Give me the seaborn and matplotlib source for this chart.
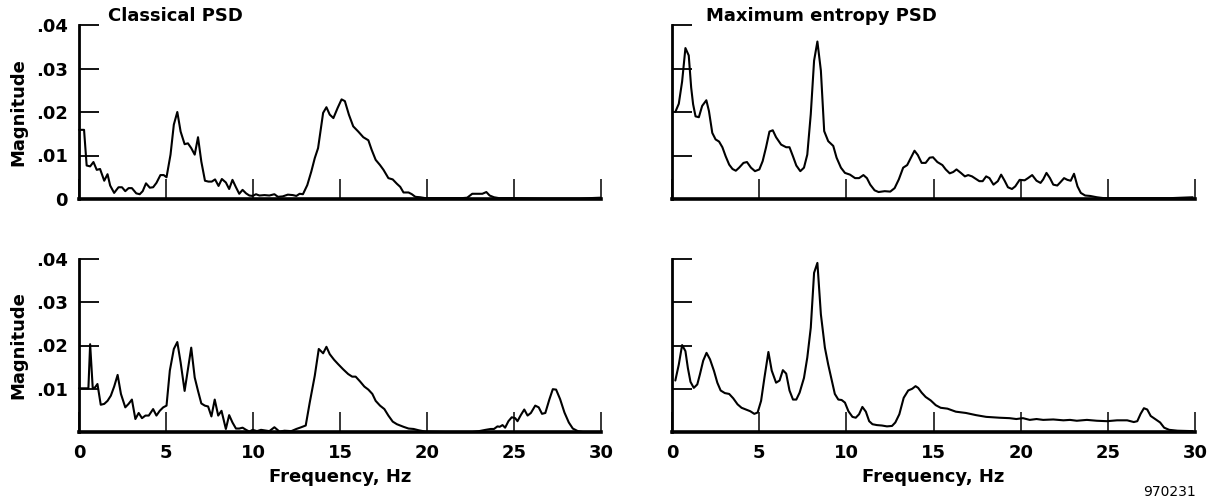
import matplotlib
matplotlib.use("Agg")
import matplotlib.pyplot as plt
import seaborn as sns
import pandas as pd

# ---------------- data ----------------
# Top-left: Classical PSD (record 1)
cls1_f = [0.00, 0.29, 0.44, 0.64, 0.83, 1.02, 1.21, 1.45, 1.64, 1.79, 2.02, 2.27, 2.47, 2.66, 2.85,
          3.04, 3.29, 3.49, 3.66, 3.85, 4.07, 4.26, 4.45, 4.68, 4.87, 5.03, 5.26, 5.45, 5.65, 5.84,
          6.07, 6.26, 6.45, 6.65, 6.84, 7.03, 7.24, 7.44, 7.63, 7.82, 8.02, 8.21, 8.44, 8.63, 8.82,
          9.02, 9.21, 9.40, 9.60, 9.79, 9.98, 10.17, 10.37, 10.66, 10.94, 11.23, 11.43, 11.71, 12.00,
          12.29, 12.49, 12.68, 12.87, 13.12, 13.35, 13.55, 13.74, 14.03, 14.22, 14.41, 14.62, 14.86,
          15.09, 15.28, 15.51, 15.76, 16.05, 16.34, 16.63, 16.82, 17.05, 17.30, 17.50, 17.78, 18.03,
          18.27, 18.46, 18.65, 18.94, 19.13, 19.33, 19.61, 19.90, 20.29, 21.06, 22.02, 22.31, 22.60,
          22.89, 23.18, 23.41, 23.60, 23.85, 24.14, 24.91, 26.84, 28.77, 29.96]
cls1_m = [.0159, .0159, .0077, .0075, .0085, .0067, .0069, .0042, .0057, .0031, .0014, .0027, .0027,
          .0018, .0025, .0025, .0013, .0011, .0018, .0036, .0026, .0027, .0037, .0055, .0055, .0050,
          .0102, .0171, .0200, .0155, .0126, .0128, .0117, .0102, .0142, .0086, .0042, .0040, .0040,
          .0045, .0030, .0046, .0038, .0023, .0044, .0027, .0012, .0021, .0013, .0008, .0007, .0011,
          .0008, .0009, .0008, .0011, .0005, .0006, .0010, .0009, .0007, .0012, .0011, .0032, .0063,
          .0094, .0117, .0198, .0211, .0194, .0186, .0209, .0229, .0225, .0194, .0167, .0155, .0142,
          .0135, .0113, .0090, .0078, .0067, .0048, .0045, .0035, .0028, .0015, .0015, .0011, .0005,
          .0004, .0002, .0002, .0002, .0002, .0003, .0012, .0012, .0012, .0016, .0008, .0004, .0002,
          .0002, .0001, .0001, .0003]

# Top-right: Maximum entropy PSD (record 1)
mem1_f = [0.19, 0.39, 0.58, 0.77, 0.96, 1.10, 1.21, 1.35, 1.54, 1.73, 1.97, 2.12, 2.31, 2.50, 2.70,
          2.89, 3.08, 3.28, 3.47, 3.66, 3.85, 4.10, 4.30, 4.53, 4.76, 5.01, 5.20, 5.39, 5.59, 5.78,
          5.97, 6.26, 6.55, 6.74, 6.94, 7.13, 7.36, 7.57, 7.76, 7.96, 8.15, 8.34, 8.54, 8.73, 8.96,
          9.25, 9.44, 9.69, 9.92, 10.21, 10.50, 10.73, 10.98, 11.18, 11.37, 11.62, 11.85, 12.20,
          12.52, 12.77, 13.01, 13.26, 13.49, 13.68, 13.91, 14.10, 14.32, 14.55, 14.78, 14.97, 15.22,
          15.51, 15.70, 15.93, 16.13, 16.32, 16.57, 16.80, 16.99, 17.21, 17.40, 17.63, 17.82, 18.02,
          18.21, 18.44, 18.69, 18.88, 19.08, 19.27, 19.50, 19.69, 19.94, 20.23, 20.42, 20.66, 20.91,
          21.14, 21.29, 21.48, 21.68, 21.87, 22.10, 22.29, 22.49, 22.68, 22.87, 23.06, 23.26, 23.45,
          23.70, 23.99, 24.37, 24.76, 26.69, 28.61, 29.87]
mem1_m = [.0200, .0219, .0270, .0347, .0330, .0256, .0218, .0190, .0188, .0214, .0227, .0202, .0152,
          .0137, .0132, .0119, .0098, .0079, .0069, .0065, .0072, .0083, .0085, .0072, .0064, .0068,
          .0087, .0118, .0155, .0158, .0142, .0125, .0119, .0119, .0098, .0077, .0064, .0072, .0102,
          .0195, .0318, .0362, .0295, .0156, .0133, .0122, .0095, .0072, .0060, .0056, .0048, .0048,
          .0055, .0048, .0033, .0020, .0016, .0018, .0017, .0025, .0045, .0072, .0078, .0093, .0111,
          .0101, .0083, .0083, .0095, .0096, .0085, .0078, .0068, .0059, .0062, .0068, .0060, .0052,
          .0055, .0052, .0047, .0041, .0041, .0052, .0048, .0033, .0041, .0056, .0042, .0027, .0023,
          .0029, .0044, .0043, .0048, .0055, .0042, .0037, .0045, .0060, .0048, .0033, .0031, .0039,
          .0048, .0044, .0042, .0058, .0029, .0014, .0008, .0007, .0004, .0002, .0002, .0002, .0004]

# Bottom-left: Classical PSD (record 2)
cls2_f = [0.00, 0.44, 0.54, 0.64, 0.79, 0.92, 1.06, 1.25, 1.45, 1.64, 1.83, 2.02, 2.22, 2.41, 2.66,
          2.85, 3.04, 3.24, 3.43, 3.62, 3.82, 4.01, 4.26, 4.45, 4.64, 4.84, 5.03, 5.22, 5.45, 5.65,
          5.84, 6.07, 6.26, 6.45, 6.65, 6.84, 7.03, 7.23, 7.42, 7.61, 7.80, 8.00, 8.19, 8.44, 8.63,
          8.82, 9.02, 9.21, 9.40, 9.60, 9.79, 9.98, 10.23, 10.46, 10.94, 11.23, 11.52, 11.81, 12.20,
          12.49, 12.77, 13.03, 13.26, 13.55, 13.78, 14.03, 14.22, 14.41, 14.66, 14.89, 15.18, 15.47,
          15.70, 15.90, 16.15, 16.40, 16.63, 16.86, 17.05, 17.30, 17.55, 17.78, 18.03, 18.27, 18.46,
          18.65, 18.94, 19.23, 19.52, 19.90, 21.06, 22.60, 22.99, 23.37, 23.66, 23.85, 24.05, 24.18,
          24.34, 24.49, 24.68, 24.87, 25.07, 25.20, 25.39, 25.59, 25.78, 25.97, 26.22, 26.42, 26.61,
          26.80, 27.03, 27.23, 27.42, 27.65, 27.90, 28.15, 28.38, 28.67, 28.96, 29.92]
cls2_m = [.0101, .0101, .0101, .0203, .0101, .0103, .0111, .0063, .0065, .0072, .0084, .0105, .0132,
          .0088, .0057, .0065, .0075, .0030, .0044, .0032, .0038, .0038, .0053, .0038, .0049, .0057,
          .0061, .0142, .0192, .0208, .0161, .0095, .0145, .0195, .0126, .0095, .0066, .0061, .0059,
          .0036, .0075, .0038, .0049, .0007, .0039, .0022, .0008, .0008, .0010, .0005, .0001, .0005,
          .0002, .0005, .0002, .0011, .0001, .0003, .0002, .0007, .0011, .0015, .0068, .0130, .0192,
          .0182, .0197, .0180, .0167, .0157, .0145, .0134, .0128, .0128, .0117, .0105, .0098, .0088,
          .0072, .0061, .0053, .0038, .0024, .0018, .0015, .0012, .0008, .0007, .0004, .0001, .0000,
          .0000, .0002, .0005, .0007, .0007, .0013, .0012, .0016, .0010, .0025, .0034, .0032, .0025,
          .0039, .0052, .0038, .0044, .0061, .0057, .0042, .0044, .0075, .0099, .0098, .0076, .0045,
          .0022, .0008, .0002, .0000, .0000]

# Bottom-right: Maximum entropy PSD (record 2)
mem2_f = [0.19, 0.39, 0.58, 0.77, 0.91, 1.06, 1.25, 1.45, 1.60, 1.79, 1.98, 2.18, 2.41, 2.60, 2.79,
          3.03, 3.28, 3.51, 3.76, 3.99, 4.24, 4.49, 4.72, 4.91, 5.11, 5.30, 5.53, 5.72, 5.97, 6.17,
          6.36, 6.55, 6.74, 6.94, 7.13, 7.32, 7.57, 7.76, 7.96, 8.15, 8.34, 8.54, 8.77, 8.96, 9.15,
          9.34, 9.54, 9.73, 9.92, 10.12, 10.35, 10.54, 10.73, 10.92, 11.12, 11.31, 11.50, 11.75,
          12.04, 12.33, 12.62, 12.81, 13.04, 13.29, 13.55, 13.78, 13.97, 14.12, 14.32, 14.55, 14.84,
          15.13, 15.41, 15.80, 16.28, 16.86, 17.44, 18.02, 18.79, 19.36, 19.75, 20.13, 20.52, 20.91,
          21.29, 21.87, 22.45, 22.83, 23.22, 23.80, 24.37, 24.95, 25.53, 26.11, 26.49, 26.69, 26.88,
          27.07, 27.26, 27.46, 27.75, 28.00, 28.23, 28.52, 29.00, 29.87]
mem2_m = [.0119, .0156, .0201, .0187, .0148, .0116, .0102, .0110, .0133, .0165, .0183, .0168, .0141,
          .0114, .0096, .0090, .0088, .0078, .0064, .0056, .0052, .0048, .0042, .0045, .0072, .0125,
          .0185, .0142, .0114, .0119, .0143, .0135, .0096, .0075, .0075, .0091, .0125, .0172, .0241,
          .0368, .0391, .0272, .0195, .0156, .0122, .0088, .0075, .0074, .0068, .0048, .0035, .0033,
          .0041, .0058, .0047, .0025, .0018, .0016, .0015, .0013, .0014, .0022, .0041, .0079, .0096,
          .0100, .0106, .0102, .0091, .0081, .0073, .0062, .0056, .0054, .0047, .0044, .0039, .0035,
          .0033, .0032, .0030, .0032, .0028, .0030, .0028, .0029, .0027, .0028, .0026, .0028, .0026,
          .0025, .0027, .0027, .0023, .0025, .0042, .0055, .0052, .0037, .0029, .0022, .0010, .0005,
          .0003, .0002]

titles = ["Classical PSD", "Maximum entropy PSD"]
x_ticks = [0, 5, 10, 15, 20, 25, 30]
x_tick_labels = ["0", "5", "10", "15", "20", "25", "30"]
y_ticks_top = [0, 0.01, 0.02, 0.03, 0.04]
y_labels_top = ["0", ".01", ".02", ".03", ".04"]
y_ticks_bot = [0.01, 0.02, 0.03, 0.04]
y_labels_bot = [".01", ".02", ".03", ".04"]
x_label = "Frequency, Hz"
y_label = "Magnitude"
figure_id = "970231"

# ---------------- style ----------------
sns.set_style("white")
plt.rcParams['font.family'] = ['DejaVu Sans']
plt.rcParams['font.weight'] = 'bold'
plt.rcParams['text.color'] = 'black'
plt.rcParams['axes.labelcolor'] = 'black'
plt.rcParams['xtick.color'] = 'black'
plt.rcParams['ytick.color'] = 'black'

W, H = 1221, 500
fig = plt.figure(figsize=(W / 100, H / 100), dpi=100)

def px_axes(left, top, right, bottom):
    return fig.add_axes([left / W, 1 - bottom / H, (right - left) / W, (bottom - top) / H])

ax_tl = px_axes(79, 25, 601, 199)
ax_tr = px_axes(672, 25, 1195, 199)
ax_bl = px_axes(79, 259, 601, 432)
ax_br = px_axes(672, 259, 1195, 432)

panels = [
    (ax_tl, cls1_f, cls1_m, "tl"),
    (ax_tr, mem1_f, mem1_m, "tr"),
    (ax_bl, cls2_f, cls2_m, "bl"),
    (ax_br, mem2_f, mem2_m, "br"),
]

for ax, f, m, pos in panels:
    df = pd.DataFrame({"f": f, "m": m})
    sns.lineplot(data=df, x="f", y="m", ax=ax, color="black", linewidth=1.5,
                 estimator=None, sort=False, clip_on=False)
    ax.set_xlim(0, 30)
    ax.set_ylim(0, 0.04)
    for s in ["top", "right"]:
        ax.spines[s].set_visible(False)
    ax.spines["left"].set_linewidth(2.0)
    ax.spines["bottom"].set_linewidth(2.6)
    ax.spines["left"].set_color("black")
    ax.spines["bottom"].set_color("black")
    ax.tick_params(axis="x", direction="in", length=14.5, width=1.1, colors="black",
                   pad=9, labelsize=13, bottom=True)
    ax.tick_params(axis="y", direction="in", length=14.5, width=1.3, colors="black",
                   pad=8, labelsize=13, left=True)
    ax.set_xlabel("")
    ax.set_ylabel("")
    ax.set_xticks(x_ticks)
    if pos in ("bl", "br"):
        ax.set_xticklabels(x_tick_labels, fontweight="bold")
        ax.set_xlabel(x_label, fontsize=13, fontweight="bold", labelpad=4, color="black")
    else:
        ax.set_xticklabels([])
    if pos == "tl":
        ax.set_yticks(y_ticks_top)
        ax.set_yticklabels(y_labels_top, fontweight="bold")
    elif pos == "bl":
        ax.set_yticks(y_ticks_bot)
        ax.set_yticklabels(y_labels_bot, fontweight="bold")
    else:
        ax.set_yticks(y_ticks_bot)
        ax.set_yticklabels([])
    if pos in ("tl", "bl"):
        ax.set_ylabel(y_label, fontsize=13, fontweight="bold", labelpad=6, color="black")

fig.text(108 / W, 1 - 16 / H, titles[0], fontsize=13, fontweight="bold", va="center", ha="left",
         color="black")
fig.text(706 / W, 1 - 16 / H, titles[1], fontsize=13, fontweight="bold", va="center", ha="left",
         color="black")
fig.text(1196 / W, 1 - 492 / H, figure_id, fontsize=10, fontweight="normal", va="center", ha="right",
         color="black")

fig.savefig("out.png", dpi=100, facecolor="white")
